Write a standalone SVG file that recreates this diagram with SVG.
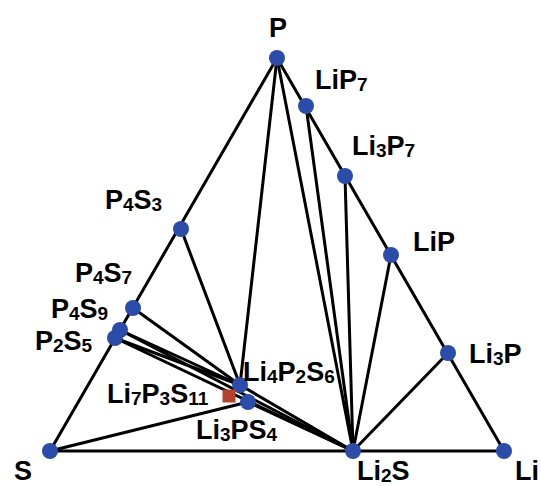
<svg xmlns="http://www.w3.org/2000/svg" width="541" height="486" viewBox="0 0 541 486">
  <style>
    .edge { stroke: #000; stroke-width: 3; fill: none; stroke-linecap: round; }
    .pt { fill: #2B4CA8; }
    .sq { fill: #B3432E; }
    .lbl { font-family: "Liberation Sans", Arial, sans-serif; font-weight: bold; font-size: 27px; fill: #000; }
    .sub { font-size: 19px; }
  </style>
  <rect width="541" height="486" fill="#fff"/>

  <!-- tie lines of the Li-P-S phase diagram -->
  <g id="connectors">
    <!-- outer triangle -->
    <line class="edge" x1="277" y1="58" x2="50" y2="451"/>
    <line class="edge" x1="277" y1="58" x2="504" y2="451"/>
    <line class="edge" x1="50" y1="451" x2="504" y2="451"/>
    <!-- from P and Li-P binaries down to Li2S -->
    <line class="edge" x1="277" y1="58" x2="353" y2="451"/>
    <line class="edge" x1="306" y1="106" x2="353" y2="451"/>
    <line class="edge" x1="345" y1="176" x2="353" y2="451"/>
    <line class="edge" x1="391" y1="255" x2="353" y2="451"/>
    <line class="edge" x1="448" y1="353" x2="353" y2="451"/>
    <!-- to Li4P2S6 -->
    <line class="edge" x1="277" y1="58" x2="240" y2="385"/>
    <line class="edge" x1="181" y1="229" x2="240" y2="385"/>
    <line class="edge" x1="133" y1="308" x2="240" y2="385"/>
    <line class="edge" x1="120" y1="330" x2="240" y2="385"/>
    <line class="edge" x1="115" y1="338" x2="240" y2="385"/>
    <!-- to Li2S -->
    <line class="edge" x1="120" y1="330" x2="353" y2="451"/>
    <line class="edge" x1="115" y1="338" x2="353" y2="451"/>
    <line class="edge" x1="240" y1="385" x2="353" y2="451"/>
    <line class="edge" x1="248" y1="402" x2="353" y2="451"/>
    <!-- S to Li3PS4 -->
    <line class="edge" x1="50" y1="451" x2="248" y2="402"/>
  </g>

  <g id="node-P"><circle class="pt" cx="277" cy="58" r="8"/><text class="lbl" x="278" y="37" text-anchor="middle">P</text></g>
  <g id="node-LiP7"><circle class="pt" cx="306" cy="106" r="8"/><text class="lbl" x="315" y="89">LiP<tspan class="sub" dy="2">7</tspan></text></g>
  <g id="node-Li3P7"><circle class="pt" cx="345" cy="176" r="8"/><text class="lbl" x="352" y="155">Li<tspan class="sub" dy="2">3</tspan><tspan dy="-2">P</tspan><tspan class="sub" dy="2">7</tspan></text></g>
  <g id="node-LiP"><circle class="pt" cx="391" cy="255" r="8"/><text class="lbl" x="413" y="251">LiP</text></g>
  <g id="node-Li3P"><circle class="pt" cx="448" cy="353" r="8"/><text class="lbl" x="469" y="363">Li<tspan class="sub" dy="2">3</tspan><tspan dy="-2">P</tspan></text></g>
  <g id="node-Li"><circle class="pt" cx="504" cy="451" r="8"/><text class="lbl" x="515" y="480">Li</text></g>
  <g id="node-Li2S"><circle class="pt" cx="353" cy="451" r="8"/><text class="lbl" x="357" y="480">Li<tspan class="sub" dy="2">2</tspan><tspan dy="-2">S</tspan></text></g>
  <g id="node-S"><circle class="pt" cx="50" cy="451" r="8"/><text class="lbl" x="14" y="480">S</text></g>
  <g id="node-P4S3"><circle class="pt" cx="181" cy="229" r="8"/><text class="lbl" x="105" y="209">P<tspan class="sub" dy="2">4</tspan><tspan dy="-2">S</tspan><tspan class="sub" dy="2">3</tspan></text></g>
  <g id="node-P4S7"><circle class="pt" cx="133" cy="308" r="8"/><text class="lbl" x="75" y="282">P<tspan class="sub" dy="2">4</tspan><tspan dy="-2">S</tspan><tspan class="sub" dy="2">7</tspan></text></g>
  <g id="node-P4S9"><circle class="pt" cx="120" cy="330" r="8"/><text class="lbl" x="51" y="318">P<tspan class="sub" dy="2">4</tspan><tspan dy="-2">S</tspan><tspan class="sub" dy="2">9</tspan></text></g>
  <g id="node-P2S5"><circle class="pt" cx="115" cy="338" r="8"/><text class="lbl" x="35" y="350">P<tspan class="sub" dy="2">2</tspan><tspan dy="-2">S</tspan><tspan class="sub" dy="2">5</tspan></text></g>
  <g id="node-Li4P2S6"><circle class="pt" cx="240" cy="385" r="8"/><text class="lbl" x="243" y="381">Li<tspan class="sub" dy="2">4</tspan><tspan dy="-2">P</tspan><tspan class="sub" dy="2">2</tspan><tspan dy="-2">S</tspan><tspan class="sub" dy="2">6</tspan></text></g>
  <g id="node-Li7P3S11"><rect class="sq" x="222.5" y="389.5" width="13" height="13"/><text class="lbl" x="107" y="403">Li<tspan class="sub" dy="2">7</tspan><tspan dy="-2">P</tspan><tspan class="sub" dy="2">3</tspan><tspan dy="-2">S</tspan><tspan class="sub" dy="2">11</tspan></text></g>
  <g id="node-Li3PS4"><circle class="pt" cx="248" cy="402" r="8"/><text class="lbl" x="196" y="439">Li<tspan class="sub" dy="2">3</tspan><tspan dy="-2">PS</tspan><tspan class="sub" dy="2">4</tspan></text></g>
</svg>
